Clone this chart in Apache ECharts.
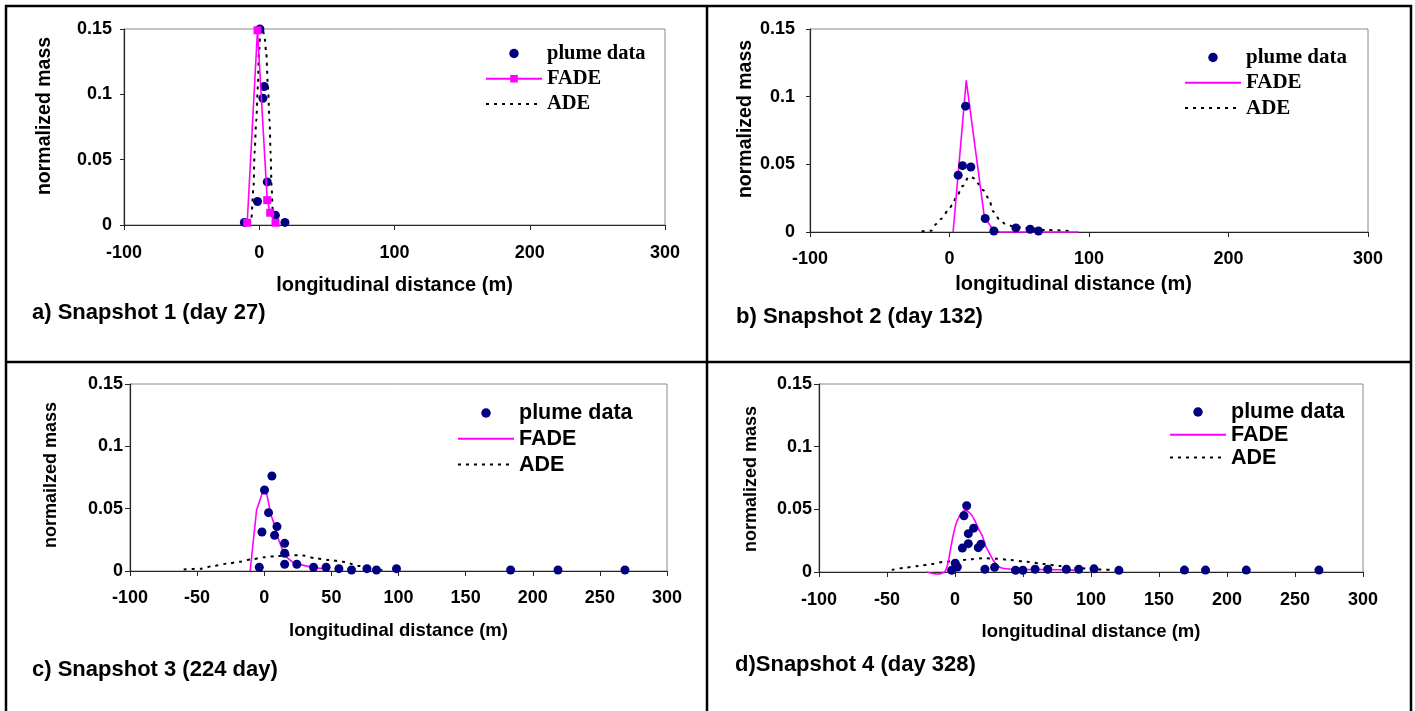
<!DOCTYPE html>
<html>
<head>
<meta charset="utf-8">
<title>Plume snapshots: plume data, FADE and ADE</title>
<script src="https://cdn.jsdelivr.net/npm/echarts@6/dist/echarts.min.js"></script>
<style>
  html, body { margin: 0; padding: 0; background: #fff; }
  #chart { width: 1415px; height: 711px; }
</style>
</head>
<body>
<div id="chart"></div>
<script>
// ---- axis ranges and tick spacing ----
const xMin = -100, xMax = 300;
const yMin = 0, yMax = 0.15, yStep = 0.05;
const xStepTop = 100, xStepBottom = 50;

// ---- captions and axis titles ----
const captions = ['a) Snapshot 1 (day 27)', 'b) Snapshot 2 (day 132)', 'c) Snapshot 3 (224 day)', 'd)Snapshot 4 (day 328)'];
const yTitles = ['normalized mass', 'normalized mass', 'normailzed mass', 'normalized mass'];
const xTitle = 'longitudinal distance (m)';
const seriesNames = ['plume data', 'FADE', 'ADE'];

// ---- Snapshot 1 (day 27) ----
const plume1X = [-11, -1.3, 0.5, 2.7, 3.7, 5.9, 12, 19];
const plume1Y = [0.002, 0.018, 0.15, 0.097, 0.106, 0.033, 0.0074, 0.002];
const fade1X = [-8.9, -1.3, 5.9, 8.1, 12];
const fade1Y = [0.0017, 0.149, 0.019, 0.0094, 0.0017];
const ade1X = [-7.5, -6, -4.2, -3.5, -2.2, -1, -0.3, 1, 2.5, 4, 5.2, 6.4, 7.6, 8.4, 9.1, 10.1, 11.5];
const ade1Y = [0, 0.004, 0.029, 0.055, 0.080, 0.106, 0.131, 0.149, 0.150, 0.143, 0.131, 0.106, 0.080, 0.055, 0.029, 0.009, 0.001];

// ---- Snapshot 2 (day 132) ----
const plume2X = [6.2, 9.3, 11.5, 15.3, 25.6, 31.8, 47.6, 57.8, 63.8];
const plume2Y = [0.042, 0.049, 0.093, 0.048, 0.010, 0.0007, 0.003, 0.002, 0.0007];
const fade2X = [2.6, 12, 25, 31, 36, 92.5];
const fade2Y = [0, 0.112, 0.011, 0.002, 0, 0];
const ade2X = [-20, -13, -9.5, -5.5, -1, 2, 5, 9.5, 14, 17, 20, 24, 28, 31.5, 36, 40, 46, 55, 69, 87];
const ade2Y = [0.0005, 0.001, 0.006, 0.010, 0.016, 0.020, 0.026, 0.034, 0.041, 0.040, 0.036, 0.031, 0.025, 0.015, 0.009, 0.006, 0.004, 0.003, 0.0015, 0.0007];

// ---- Snapshot 3 (224 day) ----
const plume3X = [-3.7, -1.7, 0.2, 3.2, 5.7, 7.7, 9.5, 15.2, 15.2, 15.2, 24.3, 36.7, 46.1, 55.6, 65, 76.5, 83.6, 98.5, 183.5, 218.8, 268.7];
const plume3Y = [0.003, 0.0313, 0.065, 0.0468, 0.0762, 0.0286, 0.0356, 0.0222, 0.0142, 0.0054, 0.0054, 0.003, 0.003, 0.0019, 0.0008, 0.0019, 0.0008, 0.0019, 0.0008, 0.0008, 0.0008];
const fade3X = [-10.5, -5.7, -0.5, 2, 5, 7.7, 10.7, 13.6, 16.1, 22.3, 33.5, 46];
const fade3Y = [0, 0.049, 0.0655, 0.061, 0.045, 0.037, 0.025, 0.017, 0.0115, 0.0062, 0.0035, 0.0014];
const ade3X = [-60, -47, -38, -27, -18, -9.4, 0, 8.7, 18.6, 28.5, 38.4, 48.4, 58.3, 71, 81, 88];
const ade3Y = [0.0012, 0.0019, 0.004, 0.006, 0.0075, 0.0094, 0.011, 0.012, 0.0127, 0.0125, 0.0102, 0.0088, 0.0075, 0.004, 0.0021, 0.0008];

// ---- Snapshot 4 (day 328) ----
const plume4X = [-2.4, 0.2, 1.7, 5.4, 6.6, 8.6, 9.8, 9.8, 13.7, 17.1, 19.1, 22, 29.1, 44.5, 49.9, 58.9, 68.2, 81.9, 91, 102.2, 120.5, 168.7, 184.2, 214.2, 267.6];
const plume4Y = [0.0014, 0.007, 0.004, 0.0191, 0.0449, 0.0529, 0.0306, 0.0226, 0.035, 0.0194, 0.0221, 0.0022, 0.0037, 0.0014, 0.0014, 0.0022, 0.0022, 0.0022, 0.0022, 0.0025, 0.0013, 0.0015, 0.0015, 0.0015, 0.0015];
const fade4X = [-20.8, -16, -13.4, -10, -7, -5, -3, -1, 1, 3, 5, 7.5, 10, 12.5, 15, 17.5, 20, 22.5, 25, 27.5, 30, 33, 36, 45, 60, 75, 88];
const fade4Y = [0, -0.0012, -0.0016, -0.0012, 0.001, 0.008, 0.02, 0.031, 0.039, 0.044, 0.0475, 0.049, 0.048, 0.045, 0.040, 0.034, 0.029, 0.021, 0.0155, 0.0105, 0.0065, 0.0038, 0.0028, 0.0022, 0.002, 0.0018, 0.0015];
const ade4X = [-46.5, -36.7, -26.9, -17.1, -8.6, 0, 11, 20.8, 30.6, 40.4, 52.6, 64.8, 77, 89.3, 104, 116.2];
const ade4Y = [0.0016, 0.0034, 0.0048, 0.0064, 0.008, 0.0088, 0.0101, 0.011, 0.0106, 0.0096, 0.0082, 0.0064, 0.0048, 0.0032, 0.002, 0.0016];

const SANS = "'Liberation Sans', Arial, Helvetica, sans-serif";
const SERIF = "'Liberation Serif', 'Times New Roman', serif";

const zip = (xs, ys) => xs.map((x, i) => [x, ys[i]]);

// layout and styling of each panel
const panels = [
  {
    plume: [plume1X, plume1Y], fade: [fade1X, fade1Y], ade: [ade1X, ade1Y],
    xStep: xStepTop, fadeMarkers: true, fadeSmooth: false,
    grid: { left: 124, top: 29, width: 541, height: 196 },
    tickFont: 18, xLabelMargin: 19, yLabelMargin: 12, tickLen: 4,
    xNameFont: 20, xNameGap: 50, xNamePad: [0, 0, 0, 0],
    yNameFont: 19.5, yNameGap: 69, yNamePad: [0, 0, 0, 22],
    caption: { left: 32, top: 302, size: 22 },
    legend: { left: 485, top: 43, font: SERIF, size: 20.5, lineHeight: 20, gap: 4.2 }
  },
  {
    plume: [plume2X, plume2Y], fade: [fade2X, fade2Y], ade: [ade2X, ade2Y],
    xStep: xStepTop, fadeMarkers: false, fadeSmooth: false,
    grid: { left: 810, top: 29, width: 558, height: 203 },
    tickFont: 18, xLabelMargin: 18, yLabelMargin: 15, tickLen: 4,
    xNameFont: 20, xNameGap: 42, xNamePad: [0, 31, 0, 0],
    yNameFont: 19.5, yNameGap: 52, yNamePad: [0, 0, 0, 23],
    caption: { left: 736, top: 306, size: 22 },
    legend: { left: 1184, top: 47, font: SERIF, size: 21, lineHeight: 20, gap: 4.3 }
  },
  {
    plume: [plume3X, plume3Y], fade: [fade3X, fade3Y], ade: [ade3X, ade3Y],
    xStep: xStepBottom, fadeMarkers: false, fadeSmooth: false,
    grid: { left: 130, top: 384, width: 537, height: 187 },
    tickFont: 18, xLabelMargin: 18, yLabelMargin: 7, tickLen: 5,
    xNameFont: 18.5, xNameGap: 50, xNamePad: [0, 0, 0, 0],
    yNameFont: 18, yNameGap: 70, yNamePad: [0, 0, 0, 5],
    caption: { left: 32, top: 659, size: 22 },
    legend: { left: 457, top: 402, font: SANS, size: 21.5, lineHeight: 21, gap: 3.8 }
  },
  {
    plume: [plume4X, plume4Y], fade: [fade4X, fade4Y], ade: [ade4X, ade4Y],
    xStep: xStepBottom, fadeMarkers: false, fadeSmooth: true,
    grid: { left: 819, top: 384, width: 544, height: 188 },
    tickFont: 18, xLabelMargin: 19, yLabelMargin: 7, tickLen: 5,
    xNameFont: 18.5, xNameGap: 50, xNamePad: [0, 0, 0, 0],
    yNameFont: 18, yNameGap: 59, yNamePad: [0, 2, 0, 0],
    caption: { left: 735, top: 654, size: 22 },
    legend: { left: 1169, top: 401, font: SANS, size: 21.5, lineHeight: 20, gap: 0.8 }
  }
];

const axisColor = '#262626';
const option = {
  animation: false,
  backgroundColor: '#ffffff',
  title: [], grid: [], xAxis: [], yAxis: [], legend: [], series: [],
  graphic: [
    // panel frame
    { type: 'line', shape: { x1: 5, y1: 6, x2: 1412, y2: 6 }, style: { stroke: '#000', lineWidth: 2.5 } },
    { type: 'line', shape: { x1: 6, y1: 5, x2: 6, y2: 711 }, style: { stroke: '#000', lineWidth: 2.5 } },
    { type: 'line', shape: { x1: 707, y1: 5, x2: 707, y2: 711 }, style: { stroke: '#000', lineWidth: 2.5 } },
    { type: 'line', shape: { x1: 1411, y1: 5, x2: 1411, y2: 711 }, style: { stroke: '#000', lineWidth: 2.5 } },
    { type: 'line', shape: { x1: 5, y1: 362, x2: 1412, y2: 362 }, style: { stroke: '#000', lineWidth: 2.5 } }
  ]
};

panels.forEach((p, i) => {
  option.title.push({
    text: captions[i], left: p.caption.left, top: p.caption.top, padding: 0,
    textStyle: { fontFamily: SANS, fontSize: p.caption.size, fontWeight: 'bold', color: '#000' }
  });
  option.grid.push({
    left: p.grid.left, top: p.grid.top, width: p.grid.width, height: p.grid.height,
    show: true, borderColor: '#8a8a8a', borderWidth: 1, backgroundColor: 'transparent'
  });
  option.xAxis.push({
    type: 'value', gridIndex: i, min: xMin, max: xMax, interval: p.xStep,
    axisLine: { show: true, onZero: false, lineStyle: { color: axisColor, width: 1.2 } },
    axisTick: { show: true, length: 5, lineStyle: { color: axisColor } },
    axisLabel: { margin: p.xLabelMargin, fontFamily: SANS, fontSize: p.tickFont, fontWeight: 'bold', color: '#000' },
    splitLine: { show: false },
    name: xTitle, nameLocation: 'middle', nameGap: p.xNameGap,
    nameTextStyle: { fontFamily: SANS, fontSize: p.xNameFont, fontWeight: 'bold', color: '#000', padding: p.xNamePad }
  });
  option.yAxis.push({
    type: 'value', gridIndex: i, min: yMin, max: yMax, interval: yStep,
    axisLine: { show: true, onZero: false, lineStyle: { color: axisColor, width: 1.2 } },
    axisTick: { show: true, length: p.tickLen, lineStyle: { color: axisColor } },
    axisLabel: { margin: p.yLabelMargin, fontFamily: SANS, fontSize: p.tickFont, fontWeight: 'bold', color: '#000' },
    splitLine: { show: false },
    name: yTitles[i], nameLocation: 'middle', nameGap: p.yNameGap,
    nameTextStyle: { fontFamily: SANS, fontSize: p.yNameFont, fontWeight: 'bold', color: '#000', padding: p.yNamePad }
  });

  const tag = '|' + i;
  option.series.push({
    type: 'line', name: seriesNames[2] + tag, xAxisIndex: i, yAxisIndex: i,
    data: zip(p.ade[0], p.ade[1]), symbol: 'none', smooth: 0.3, smoothMonotone: 'x',
    lineStyle: { color: '#000', width: 2, type: [3, 5] }, itemStyle: { color: '#000' }, z: 2
  });
  option.series.push({
    type: 'line', name: seriesNames[1] + tag, xAxisIndex: i, yAxisIndex: i,
    data: zip(p.fade[0], p.fade[1]),
    symbol: p.fadeMarkers ? 'rect' : 'none', symbolSize: 8, showSymbol: p.fadeMarkers,
    smooth: p.fadeSmooth ? 0.35 : false, clip: false,
    lineStyle: { color: '#ff00ff', width: 1.6 }, itemStyle: { color: '#ff00ff', opacity: 1 },
    z: p.fadeMarkers ? 5 : 3
  });
  option.series.push({
    type: 'scatter', name: seriesNames[0] + tag, xAxisIndex: i, yAxisIndex: i,
    data: zip(p.plume[0], p.plume[1]), symbol: 'circle', symbolSize: 9,
    itemStyle: { color: '#000080', opacity: 1 }, z: 4
  });

  option.legend.push({
    orient: 'vertical', left: p.legend.left, top: p.legend.top, padding: 0,
    itemWidth: 56, itemHeight: 9.5, itemGap: p.legend.gap, selectedMode: false,
    formatter: name => name.split('|')[0],
    textStyle: { fontFamily: p.legend.font, fontSize: p.legend.size, fontWeight: 'bold', color: '#000', lineHeight: p.legend.lineHeight },
    data: [
      { name: seriesNames[0] + tag },
      p.fadeMarkers ? { name: seriesNames[1] + tag } : { name: seriesNames[1] + tag, itemStyle: { opacity: 0 } },
      { name: seriesNames[2] + tag, itemStyle: { opacity: 0 } }
    ]
  });
});

const chart = echarts.init(document.getElementById('chart'), null, { renderer: 'canvas' });
chart.setOption(option);
</script>
</body>
</html>
